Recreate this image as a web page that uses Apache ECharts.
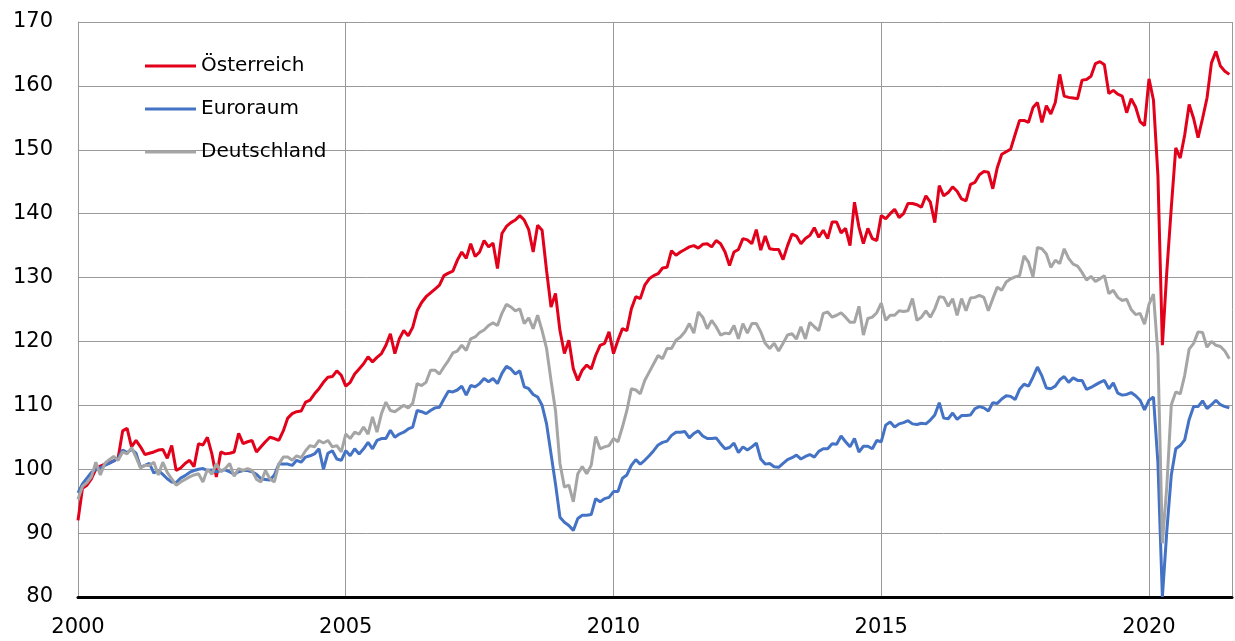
<!DOCTYPE html>
<html>
<head>
<meta charset="utf-8">
<script src="https://cdn.jsdelivr.net/npm/echarts@6/dist/echarts.min.js"></script>
<style>
  html, body { margin: 0; padding: 0; background: #fff; }
  #chart { width: 1235px; height: 641px; }
</style>
</head>
<body>
<div id="chart"></div>
<script>
// monthly index values, Jan 2000 .. Jul 2021
var startYear = 2000;
var yearTicks = [2000, 2005, 2010, 2015, 2020];

var oesterreich = [
  92, 97, 97.5, 98.5, 100, 100.5, 100.8, 101, 101.3, 101.8,
  106, 106.4, 103.5, 104.5, 103.5, 102.3, 102.5, 102.7, 103, 103.1,
  101.7, 103.7, 99.8, 100.2, 100.9, 101.4, 100.4, 104, 103.8, 105,
  102.4, 98.8, 102.7, 102.4, 102.5, 102.7, 105.6, 104, 104.3, 104.5,
  102.7, 103.5, 104.3, 105, 104.8, 104.5, 106, 108, 108.7, 109,
  109.1, 110.5, 110.8, 111.8, 112.6, 113.6, 114.4, 114.5, 115.4, 114.7,
  113, 113.6, 114.9, 115.7, 116.5, 117.6, 116.8, 117.5, 118.1, 119.4,
  121.2, 118.1, 120.4, 121.7, 120.9, 122.2, 124.8, 126.1, 127, 127.6,
  128.2, 128.8, 130.3, 130.7, 131, 132.7, 134, 133, 135.3, 133.3,
  134, 135.8, 134.8, 135.4, 131.4, 136.9, 138, 138.6, 139, 139.7,
  139, 137.5, 134, 138.2, 137.4, 131.1, 125.4, 127.5, 121.7, 118.1,
  120.2, 115.7, 113.9, 115.5, 116.3, 115.7, 117.8, 119.4, 119.7, 121.5,
  118.1, 120.2, 122, 121.7, 125.1, 127, 126.7, 128.8, 129.8, 130.3,
  130.6, 131.5, 131.6, 134.2, 133.5, 134, 134.4, 134.8, 135, 134.6,
  135.2, 135.3, 134.8, 135.8, 135.3, 134, 131.9, 134, 134.4, 136.1,
  135.9, 135.3, 137.5, 134.3, 136.5, 134.5, 134.4, 134.4, 132.8, 135,
  136.8, 136.5, 135.3, 136.1, 136.6, 137.8, 136.3, 137.4, 136.1, 138.7,
  138.7, 137, 137.7, 135, 141.8, 137.9, 135.3, 137.7, 136.1, 135.8,
  139.7, 139.2, 140, 140.7, 139.4, 140, 141.6, 141.6, 141.4, 141,
  142.8, 141.8, 138.6, 144.4, 142.8, 143.3, 144.2, 143.5, 142.3, 142,
  144.6, 144.9, 146.1, 146.6, 146.5, 143.9, 147.2, 149.3, 149.7, 150.1,
  152.4, 154.6, 154.6, 154.3, 156.6, 157.4, 154.3, 156.9, 155.6, 157.4,
  161.8, 158.4, 158.2, 158.1, 158, 160.9, 161, 161.5, 163.5, 163.8,
  163.3, 158.8, 159.3, 158.7, 158.4, 155.8, 158, 156.7, 154.4, 153.8,
  161.1, 157.8, 146, 119.4, 131, 141, 150.3, 148.7, 152.3, 157.1,
  154.9, 151.9, 154.9, 158.1, 163.6, 165.4, 163.1, 162.3, 161.8
];

var euroraum = [
  96.3, 97.7, 98.6, 99.5, 100, 100.2, 100.6, 100.9, 101.3, 101.7,
  103, 102.6, 103.1, 102.5, 100.3, 100.6, 100.9, 99.4, 99.8, 99.2,
  98.5, 98, 97.9, 98.6, 99, 99.5, 99.8, 100, 100.1, 99.8,
  99.9, 99.6, 99.8, 99.9, 99.6, 99.2, 99.6, 99.8, 99.8, 99.6,
  99.2, 98.5, 98.4, 98.3, 99.1, 100.8, 100.8, 100.8, 100.6, 101.4,
  101.1, 101.9, 102.1, 102.4, 103.2, 100, 102.5, 102.9, 101.6, 101.4,
  102.9, 102.1, 103.2, 102.4, 103.2, 104.2, 103.2, 104.5, 104.8, 104.8,
  106.1, 105, 105.5, 105.8, 106.3, 106.6, 109.2, 109, 108.7, 109.2,
  109.6, 109.7, 111, 112.2, 112.1, 112.4, 113, 111.6, 113.1, 112.9,
  113.4, 114.2, 113.7, 114.2, 113.4, 115, 116.1, 115.7, 114.9, 115.4,
  112.9, 112.6, 111.7, 111.3, 110, 107.1, 102.4, 97.7, 92.5, 91.7,
  91.2, 90.4, 92.3, 92.8, 92.8, 92.9, 95.4, 94.9, 95.4, 95.6,
  96.5, 96.5, 98.6, 99.1, 100.6, 101.5, 100.8, 101.4, 102.1, 102.9,
  103.8, 104.2, 104.4, 105.3, 105.8, 105.8, 105.9, 104.9, 105.6, 106,
  105.2, 104.8, 104.8, 104.9, 104, 103.2, 103.4, 104.1, 102.6, 103.5,
  103, 103.5, 104.1, 101.6, 100.8, 100.9, 100.4, 100.3, 100.9, 101.5,
  101.8, 102.2, 101.6, 102, 102.3, 101.9, 102.8, 103.2, 103.2, 104,
  103.9, 105.2, 104.3, 103.5, 104.8, 102.7, 103.6, 103.6, 103.2, 104.5,
  104.3, 106.9, 107.4, 106.6, 107.1, 107.3, 107.6, 107.1, 107, 107.2,
  107.1, 107.7, 108.5, 110.4, 108, 107.9, 108.8, 107.8, 108.4, 108.4,
  108.5, 109.5, 109.8, 109.6, 109.1, 110.4, 110.3, 111, 111.5, 111.4,
  110.9, 112.5, 113.3, 113, 114.4, 116, 114.6, 112.7, 112.6, 113,
  114, 114.5, 113.6, 114.3, 113.9, 113.9, 112.5, 112.8, 113.2, 113.6,
  113.9, 112.6, 113.5, 111.9, 111.6, 111.7, 112, 111.5, 110.8, 109.3,
  110.8, 111.3, 101, 80, 90.4, 99.1, 103.2, 103.7, 104.6, 107.8,
  109.8, 109.8, 110.7, 109.5, 110.1, 110.8, 110.1, 109.8, 109.6
];

var deutschland = [
  95.3, 97.3, 97.9, 98.8, 101.1, 99.1, 100.9, 101.5, 102, 101.4,
  102.7, 102.4, 103.4, 101.9, 100.2, 100.6, 100.6, 101.1, 99.1, 101.1,
  99.5, 98.5, 97.5, 98, 98.4, 98.8, 99.1, 99.3, 98, 100,
  99.2, 100.9, 99.6, 100.1, 100.9, 98.9, 100.1, 99.8, 100.1, 99.8,
  98.4, 98, 99.8, 98.5, 98, 100.8, 101.9, 101.9, 101.4, 102.1,
  101.8, 102.9, 103.7, 103.5, 104.5, 104.1, 104.5, 103.5, 103.7, 102.7,
  105.5, 104.8, 105.8, 105.5, 106.6, 105.5, 108.2, 105.8, 108.7, 110.5,
  109.2, 109, 109.5, 110, 109.6, 110.3, 113.4, 113.1, 113.6, 115.5,
  115.5, 114.9, 116, 117, 118.2, 118.5, 119.4, 118.6, 120.4, 120.7,
  121.4, 121.8, 122.5, 122.9, 122.5, 124.4, 125.8, 125.4, 124.8, 125.1,
  122.8, 123.7, 122, 124.1, 121.7, 118.9, 113.9, 109.2, 100.9, 97.2,
  97.5, 94.9, 99.3, 100.4, 99.3, 100.6, 105.1, 103.2, 103.5, 103.7,
  104.8, 104.3, 106.6, 109.2, 112.6, 112.4, 111.8, 113.9, 115.2, 116.5,
  117.8, 117.3, 118.9, 118.9, 120.2, 120.7, 121.5, 122.8, 121.3, 124.6,
  123.8, 122, 123.3, 122.3, 121, 121.3, 121.2, 122.5, 120.4, 122.8,
  121.3, 122.8, 122.8, 121.5, 119.7, 118.9, 119.7, 118.5, 119.7, 121,
  121.2, 120.4, 122.3, 120.4, 123, 122.3, 121.7, 124.4, 124.6, 123.8,
  124.1, 124.5, 123.8, 123, 123, 125.5, 121, 123.6, 123.8, 124.5,
  126, 123.3, 124.1, 124.1, 124.8, 124.7, 124.8, 126.7, 123.3, 123.8,
  124.8, 123.8, 125.1, 127, 126.9, 125.5, 126.7, 124.1, 126.7, 124.8,
  126.8, 126.9, 127.2, 126.9, 124.8, 126.7, 128.5, 128, 129.3, 129.8,
  130.1, 130.3, 133.4, 132.4, 130.1, 134.7, 134.5, 133.7, 131.6, 132.7,
  132.2, 134.5, 133, 132.1, 131.8, 130.8, 129.6, 130.2, 129.4, 129.8,
  130.3, 127.5, 128, 126.9, 126.4, 126.6, 125, 124.2, 124.4, 122.7,
  125.8, 127.4, 118, 88.4, 97.4, 110.1, 112.1, 111.8, 114.7, 118.8,
  119.7, 121.5, 121.4, 119.1, 120, 119.4, 119.2, 118.5, 117.3
];

var font = 'DejaVu Sans';

function toPoints(arr) {
  return arr.map(function (v, i) { return [startYear + i / 12, v]; });
}

function lineSeries(name, values, color) {
  return {
    name: name,
    type: 'line',
    data: toPoints(values),
    symbol: 'none',
    lineStyle: { color: color, width: 3 },
    itemStyle: { color: color }
  };
}

var chart = echarts.init(document.getElementById('chart'));
chart.setOption({
  animation: false,
  grid: { left: 78, right: 0, top: 22, bottom: 44 },
  legend: {
    orient: 'vertical',
    left: 145,
    top: 54,
    padding: 0,
    icon: 'rect',
    itemWidth: 51,
    itemHeight: 3,
    itemGap: 19,
    textStyle: { fontFamily: font, fontSize: 20, color: '#000', lineHeight: 24 },
    data: ['Österreich', 'Euroraum', 'Deutschland']
  },
  xAxis: {
    type: 'value',
    min: 2000,
    max: 2021.55,
    interval: 5,
    axisLine: { lineStyle: { color: '#000', width: 3 } },
    axisTick: { show: false },
    splitLine: { show: true, lineStyle: { color: '#999', width: 1 } },
    axisLabel: {
      margin: 20,
      fontFamily: font,
      fontSize: 21,
      color: '#000',
      formatter: function (v) { return yearTicks.indexOf(v) >= 0 ? String(v) : ''; }
    }
  },
  yAxis: {
    type: 'value',
    min: 80,
    max: 170,
    interval: 10,
    axisLine: { show: true, lineStyle: { color: '#999', width: 1 } },
    axisTick: { show: false },
    splitLine: { lineStyle: { color: '#999', width: 1 } },
    axisLabel: { margin: 25, fontFamily: font, fontSize: 21, color: '#000' }
  },
  series: [
    lineSeries('Österreich', oesterreich, '#e2001a'),
    lineSeries('Euroraum', euroraum, '#4472c4'),
    lineSeries('Deutschland', deutschland, '#a5a5a5')
  ]
});
</script>
</body>
</html>
